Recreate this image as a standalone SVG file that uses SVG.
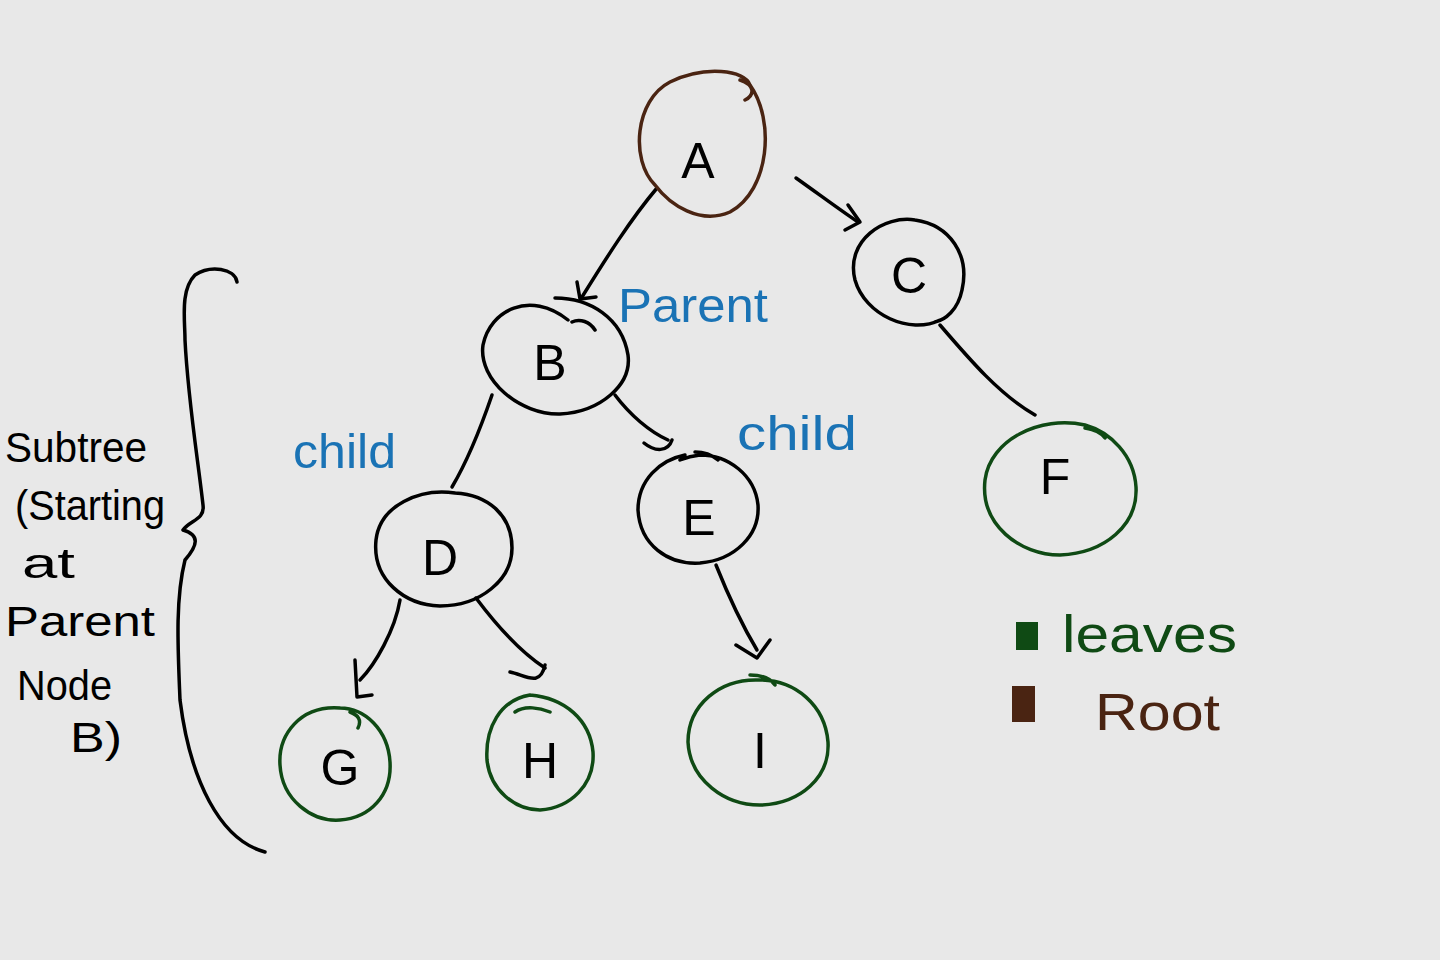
<svg xmlns="http://www.w3.org/2000/svg" width="1440" height="960" viewBox="0 0 1440 960">
<style>
.bg{fill:#e8e8e8}
.ln{fill:none;stroke:#000;stroke-width:3.5;stroke-linecap:round;stroke-linejoin:round}
.root{fill:none;stroke:#4a2412;stroke-width:3.5;stroke-linecap:round}
.leaf{fill:none;stroke:#0f4a14;stroke-width:3.5;stroke-linecap:round}
.nl{font-family:"Liberation Sans",Arial,sans-serif;font-size:50px;fill:#000;text-anchor:middle}
.bl{font-family:"Liberation Sans",Arial,sans-serif;font-size:48px;fill:#1a73b5}
.side{font-family:"Liberation Sans",Arial,sans-serif;font-size:42px;fill:#000}
.lg{font-family:"Liberation Sans",Arial,sans-serif;font-size:52px}
</style>
<rect class="bg" x="0" y="0" width="1440" height="960"/>

<g id="connectors">
<path class="ln" d="M657,188 C630,220 605,260 582,297"/>
<path class="ln" d="M577,282 L580,299 L596,297"/>
<path class="ln" d="M796,178 C820,195 840,210 858,222"/>
<path class="ln" d="M848,205 L860,222 L845,230"/>
<path class="ln" d="M492,395 C480,430 468,460 452,487"/>
<path class="ln" d="M615,395 C630,415 650,432 668,440"/>
<path class="ln" d="M644,443 C655,452 668,452 672,440"/>
<path class="ln" d="M940,325 C970,360 1000,395 1035,415"/>
<path class="ln" d="M400,600 C395,630 375,665 360,680"/>
<path class="ln" d="M355,660 L357,697 L372,695"/>
<path class="ln" d="M476,598 C500,630 525,655 545,668"/>
<path class="ln" d="M510,672 C525,675 540,688 545,665"/>
<path class="ln" d="M716,565 C730,600 745,630 757,650"/>
<path class="ln" d="M736,645 L757,658 L770,640"/>
</g>

<g id="node-A">
<path class="root" d="M655,185 C630,160 635,100 670,82 C705,65 745,70 750,85 C775,120 770,190 730,212 C700,225 670,205 655,185 M740,80 C755,85 755,95 745,100"/>
<text class="nl" x="698" y="178">A</text>
</g>
<g id="node-C">
<path class="ln" d="M940,320 C910,335 865,315 855,280 C845,240 885,215 915,220 C950,225 970,255 962,290 C958,310 945,320 935,322"/>
<text class="nl" x="909" y="293">C</text>
</g>
<g id="node-B">
<path class="ln" d="M568,320 C530,290 490,310 483,345 C478,380 520,415 560,414 C600,412 632,385 628,355 C622,318 590,298 555,298 M572,322 C580,318 590,322 595,330"/>
<text class="nl" x="550" y="380">B</text>
</g>
<g id="node-D">
<path class="ln" d="M455,493 C420,488 380,505 376,540 C372,580 405,605 440,606 C480,606 512,580 512,548 C512,515 488,495 455,493"/>
<text class="nl" x="440" y="575">D</text>
</g>
<g id="node-E">
<path class="ln" d="M685,455 C660,460 638,480 638,510 C640,545 668,565 700,563 C735,560 760,535 758,505 C755,475 728,455 700,455 C690,456 685,458 680,460 M695,452 C705,452 712,455 718,460"/>
<text class="nl" x="699" y="535">E</text>
</g>
<g id="node-F">
<path class="leaf" d="M1085,425 C1040,415 990,440 985,480 C980,525 1020,555 1060,555 C1105,553 1138,525 1136,487 C1134,455 1110,432 1085,425 M1085,428 C1095,430 1100,432 1105,438"/>
<text class="nl" x="1055" y="494">F</text>
</g>
<g id="node-G">
<path class="leaf" d="M340,708 C300,705 278,735 280,765 C282,800 312,822 340,820 C370,818 392,795 390,762 C388,730 365,708 340,708 M350,712 C358,715 362,720 358,728"/>
<text class="nl" x="340" y="785">G</text>
</g>
<g id="node-H">
<path class="leaf" d="M530,695 C500,700 485,728 487,760 C490,790 515,810 540,810 C570,808 595,785 593,752 C590,720 565,698 530,695 M515,712 C525,705 540,708 550,712"/>
<text class="nl" x="540" y="778">H</text>
</g>
<g id="node-I">
<path class="leaf" d="M760,680 C720,678 688,705 688,742 C690,780 725,806 762,805 C800,803 830,778 828,742 C825,705 795,680 760,680 M750,675 C762,675 770,678 775,685"/>
<text class="nl" x="760" y="768">I</text>
</g>

<g id="labels">
<text class="bl" x="618" y="322" textLength="150" lengthAdjust="spacingAndGlyphs">Parent</text>
<text class="bl" x="293" y="468" textLength="103" lengthAdjust="spacingAndGlyphs">child</text>
<text class="bl" x="737" y="450" textLength="120" lengthAdjust="spacingAndGlyphs">child</text>
</g>

<g id="subtree-brace">
<path class="ln" d="M237,282 C235,268 210,265 195,275 C180,290 185,320 185,340 C188,400 198,460 203,505 C205,520 190,520 183,530 C200,535 198,545 185,560 C175,600 178,650 180,700 C190,780 220,840 265,852"/>
<text class="side" x="5" y="462" textLength="142" lengthAdjust="spacingAndGlyphs">Subtree</text>
<text class="side" x="15" y="520" textLength="150" lengthAdjust="spacingAndGlyphs">(Starting</text>
<text class="side" x="22" y="578" textLength="53" lengthAdjust="spacingAndGlyphs">at</text>
<text class="side" x="5" y="636" textLength="150" lengthAdjust="spacingAndGlyphs">Parent</text>
<text class="side" x="17" y="700" textLength="95" lengthAdjust="spacingAndGlyphs">Node</text>
<text class="side" x="70" y="752" textLength="52" lengthAdjust="spacingAndGlyphs">B)</text>
</g>

<g id="legend">
<rect x="1017" y="623" width="20" height="26" fill="#0f4a14" stroke="#0f4a14" stroke-width="2"/>
<text class="lg" x="1062" y="652" fill="#0f4a14" textLength="175" lengthAdjust="spacingAndGlyphs">leaves</text>
<rect x="1013" y="687" width="21" height="34" fill="#4a2412" stroke="#4a2412" stroke-width="2"/>
<text class="lg" x="1095" y="730" fill="#4a2412" textLength="125" lengthAdjust="spacingAndGlyphs">Root</text>
</g>
</svg>
